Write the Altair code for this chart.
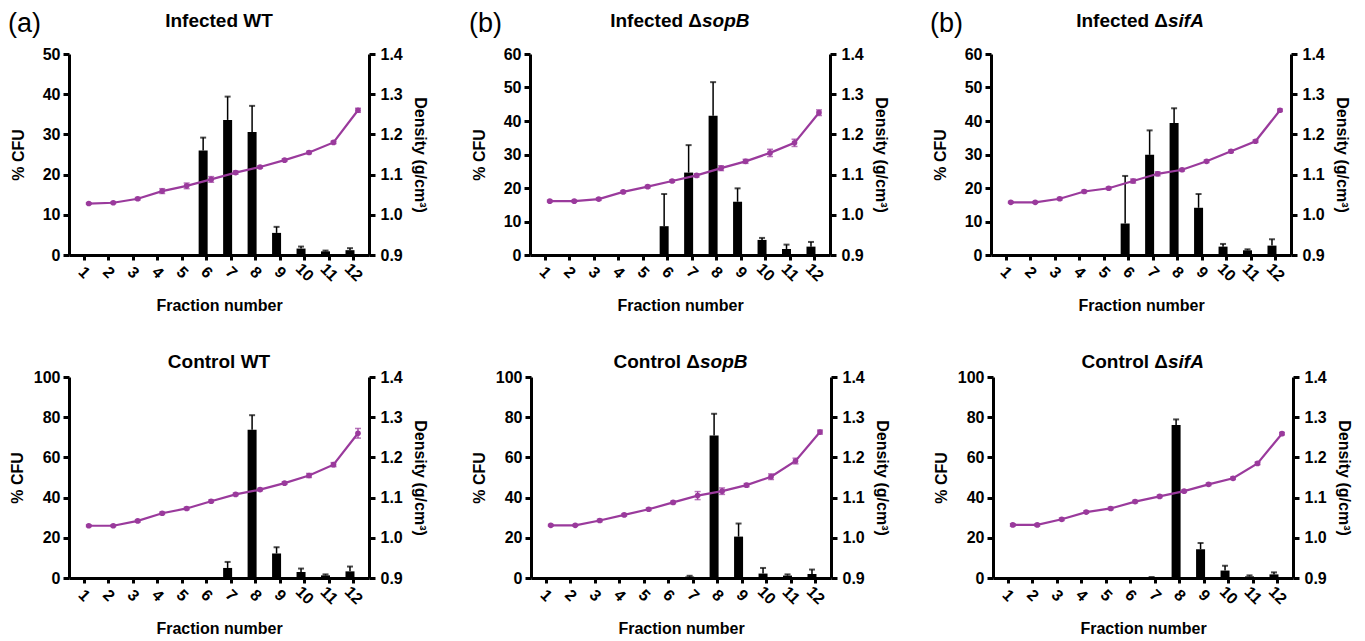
import altair as alt
import pandas as pd

frac = list(range(1, 13))

# ---------- Infected WT ----------
inf_wt_cfu = [0, 0, 0, 0, 0, 26.0, 33.6, 30.6, 5.5, 1.6, 0.9, 1.2]
inf_wt_cfu_sd = [0, 0, 0, 0, 0, 3.2, 5.8, 6.5, 1.5, 0.5, 0.2, 0.5]
inf_wt_dens = [1.028, 1.030, 1.040, 1.059, 1.072, 1.088, 1.105, 1.119, 1.136, 1.155, 1.180, 1.260]
inf_wt_dens_sd = [0.002, 0.002, 0.003, 0.006, 0.007, 0.007, 0.004, 0.003, 0.003, 0.003, 0.003, 0.005]

# ---------- Infected dsopB ----------
inf_sopb_cfu = [0, 0, 0, 0, 0, 8.6, 24.6, 41.6, 15.9, 4.5, 1.8, 2.5]
inf_sopb_cfu_sd = [0, 0, 0, 0, 0, 9.6, 8.2, 10.0, 4.0, 0.6, 1.3, 1.4]
inf_sopb_dens = [1.034, 1.034, 1.039, 1.057, 1.070, 1.084, 1.098, 1.116, 1.133, 1.154, 1.179, 1.254]
inf_sopb_dens_sd = [0.002, 0.002, 0.003, 0.003, 0.003, 0.003, 0.004, 0.006, 0.005, 0.009, 0.009, 0.007]

# ---------- Infected dsifA ----------
inf_sifa_cfu = [0, 0, 0, 0, 0, 9.4, 29.9, 39.4, 14.1, 2.5, 1.4, 2.8]
inf_sifa_cfu_sd = [0, 0, 0, 0, 0, 14.2, 7.3, 4.4, 4.1, 0.8, 0.3, 1.9]
inf_sifa_dens = [1.031, 1.031, 1.040, 1.058, 1.066, 1.084, 1.102, 1.112, 1.133, 1.158, 1.183, 1.260]
inf_sifa_dens_sd = [0.002, 0.002, 0.003, 0.003, 0.003, 0.005, 0.005, 0.003, 0.003, 0.003, 0.003, 0.003]

# ---------- Control WT ----------
ctl_wt_cfu = [0, 0, 0, 0, 0, 0, 5.0, 73.8, 12.2, 3.0, 1.3, 3.3]
ctl_wt_cfu_sd = [0, 0, 0, 0, 0, 0, 3.0, 7.2, 3.1, 1.7, 0.5, 2.4]
ctl_wt_dens = [1.030, 1.030, 1.042, 1.061, 1.073, 1.091, 1.108, 1.120, 1.136, 1.155, 1.182, 1.260]
ctl_wt_dens_sd = [0.002, 0.002, 0.003, 0.003, 0.003, 0.003, 0.003, 0.003, 0.003, 0.005, 0.005, 0.012]

# ---------- Control dsopB ----------
ctl_sopb_cfu = [0, 0, 0, 0, 0, 0, 0.7, 70.9, 20.6, 2.2, 1.2, 2.0]
ctl_sopb_cfu_sd = [0, 0, 0, 0, 0, 0, 0.4, 10.8, 6.5, 2.8, 0.6, 2.2]
ctl_sopb_dens = [1.031, 1.031, 1.043, 1.057, 1.071, 1.088, 1.105, 1.116, 1.131, 1.152, 1.191, 1.263]
ctl_sopb_dens_sd = [0.002, 0.002, 0.003, 0.003, 0.003, 0.003, 0.010, 0.008, 0.004, 0.007, 0.007, 0.005]

# ---------- Control dsifA ----------
ctl_sifa_cfu = [0, 0, 0, 0, 0, 0, 0.3, 76.1, 14.3, 3.7, 0.8, 1.8]
ctl_sifa_cfu_sd = [0, 0, 0, 0, 0, 0, 0.2, 2.8, 3.1, 2.4, 0.5, 1.0]
ctl_sifa_dens = [1.032, 1.032, 1.046, 1.064, 1.073, 1.090, 1.103, 1.116, 1.133, 1.148, 1.185, 1.259]
ctl_sifa_dens_sd = [0.003] * 12

dens_ticks = [0.9, 1.0, 1.1, 1.2, 1.3, 1.4]

PURPLE = "#9A3A9C"
FONT = "Liberation Sans"
W, H = 300, 201


def panel(letter, prefix, italic, dx, cfu, cfu_sd, dens, dens_sd, ymax, ystep, top_row):
    df = pd.DataFrame({
        "frac": frac,
        "cfu": cfu,
        "cfu_hi": [c + s for c, s in zip(cfu, cfu_sd)],
        "dens": dens,
        "dens_lo": [d - s for d, s in zip(dens, dens_sd)],
        "dens_hi": [d + s for d, s in zip(dens, dens_sd)],
    })
    base = alt.Chart(df)
    x = alt.X("frac:Q",
              scale=alt.Scale(domain=[0.6, 12.45], nice=False, zero=False),
              axis=alt.Axis(values=frac, title="Fraction number", labelAngle=45,
                            labelAlign="center", labelBaseline="middle",
                            labelPadding=12, titlePadding=14, tickSize=5, format="d"))
    lscale = alt.Scale(domain=[0, ymax], nice=False)
    laxis = alt.Axis(values=list(range(0, ymax + 1, ystep)), title="% CFU", format="d",
                     titlePadding=16 if ymax < 100 else 8, labelPadding=3)
    rscale = alt.Scale(domain=[0.9, 1.4], nice=False, zero=False)
    raxis = alt.Axis(orient="right", values=dens_ticks, format=".1f",
                     title="Density (g/cm³)", labelPadding=5, titlePadding=9)

    bars = base.mark_bar(width=9, xOffset=-3, color="black").encode(
        x=x, y=alt.Y("cfu:Q", scale=lscale, axis=laxis))
    err = base.mark_rule(xOffset=-3, color="black", strokeWidth=1.5).encode(
        x=x, y=alt.Y("cfu:Q", scale=lscale, axis=laxis), y2="cfu_hi:Q")
    cap = base.mark_tick(xOffset=-3, orient="horizontal", size=6, thickness=2, color="black").encode(
        x=x, y=alt.Y("cfu_hi:Q", scale=lscale, axis=laxis))
    left = alt.layer(bars, err, cap)

    line = base.mark_line(xOffset=5, color=PURPLE, strokeWidth=2.2).encode(
        x=x, y=alt.Y("dens:Q", scale=rscale, axis=raxis))
    derr = base.mark_rule(xOffset=5, color=PURPLE, strokeWidth=1.3).encode(
        x=x, y=alt.Y("dens_lo:Q", scale=rscale, axis=raxis), y2="dens_hi:Q")
    dcap_hi = base.mark_tick(xOffset=5, orient="horizontal", size=6, thickness=1.5, color=PURPLE).encode(
        x=x, y=alt.Y("dens_hi:Q", scale=rscale, axis=raxis))
    dcap_lo = base.mark_tick(xOffset=5, orient="horizontal", size=6, thickness=1.5, color=PURPLE).encode(
        x=x, y=alt.Y("dens_lo:Q", scale=rscale, axis=raxis))
    pts = base.mark_point(xOffset=5, filled=True, size=32, opacity=1, color=PURPLE).encode(
        x=x, y=alt.Y("dens:Q", scale=rscale, axis=raxis))
    right = alt.layer(line, derr, dcap_hi, dcap_lo, pts)

    one = alt.Chart(pd.DataFrame({"k": [0]}))
    ty = -33 if top_row else -15
    texts = []
    if italic:
        texts.append(one.mark_text(font=FONT, fontSize=19, fontWeight="bold", align="right",
                                   baseline="middle", color="black").encode(
            x=alt.value(W / 2 + dx), y=alt.value(ty), text=alt.value(prefix)))
        texts.append(one.mark_text(font=FONT, fontSize=19, fontWeight="bold", fontStyle="italic",
                                   align="left", baseline="middle", color="black").encode(
            x=alt.value(W / 2 + dx), y=alt.value(ty), text=alt.value(italic)))
    else:
        texts.append(one.mark_text(font=FONT, fontSize=19, fontWeight="bold", align="center",
                                   baseline="middle", color="black").encode(
            x=alt.value(W / 2), y=alt.value(ty), text=alt.value(prefix)))
    if letter:
        texts.append(one.mark_text(font=FONT, fontSize=27, align="left", baseline="middle",
                                   color="black").encode(
            x=alt.value(-61), y=alt.value(-30), text=alt.value(letter)))

    return alt.layer(left, right, *texts).resolve_scale(y="independent").properties(width=W, height=H)


top = alt.hconcat(
    panel("(a)", "Infected WT", None, 0, inf_wt_cfu, inf_wt_cfu_sd, inf_wt_dens, inf_wt_dens_sd, 50, 10, True),
    panel("(b)", "Infected Δ", "sopB", 22, inf_sopb_cfu, inf_sopb_cfu_sd, inf_sopb_dens, inf_sopb_dens_sd, 60, 10, True),
    panel("(b)", "Infected Δ", "sifA", 27, inf_sifa_cfu, inf_sifa_cfu_sd, inf_sifa_dens, inf_sifa_dens_sd, 60, 10, True),
    spacing=41,
)
bottom = alt.hconcat(
    panel(None, "Control WT", None, 0, ctl_wt_cfu, ctl_wt_cfu_sd, ctl_wt_dens, ctl_wt_dens_sd, 100, 20, False),
    panel(None, "Control Δ", "sopB", 19, ctl_sopb_cfu, ctl_sopb_cfu_sd, ctl_sopb_dens, ctl_sopb_dens_sd, 100, 20, False),
    panel(None, "Control Δ", "sifA", 25, ctl_sifa_cfu, ctl_sifa_cfu_sd, ctl_sifa_dens, ctl_sifa_dens_sd, 100, 20, False),
    spacing=43,
)

chart = alt.vconcat(top, bottom, spacing=39).configure_view(stroke=None).configure_axis(
    labelFont=FONT, labelFontSize=16, labelFontWeight="bold", labelColor="black",
    titleFont=FONT, titleFontSize=16, titleFontWeight="bold", titleColor="black",
    domainColor="black", domainWidth=3, tickColor="black", tickWidth=3, tickSize=6,
    grid=False,
).properties(background="white", padding={"left": 0, "top": 2, "right": 0, "bottom": 0})

chart.save("out.html", embed_options={"renderer": "svg", "actions": False})
